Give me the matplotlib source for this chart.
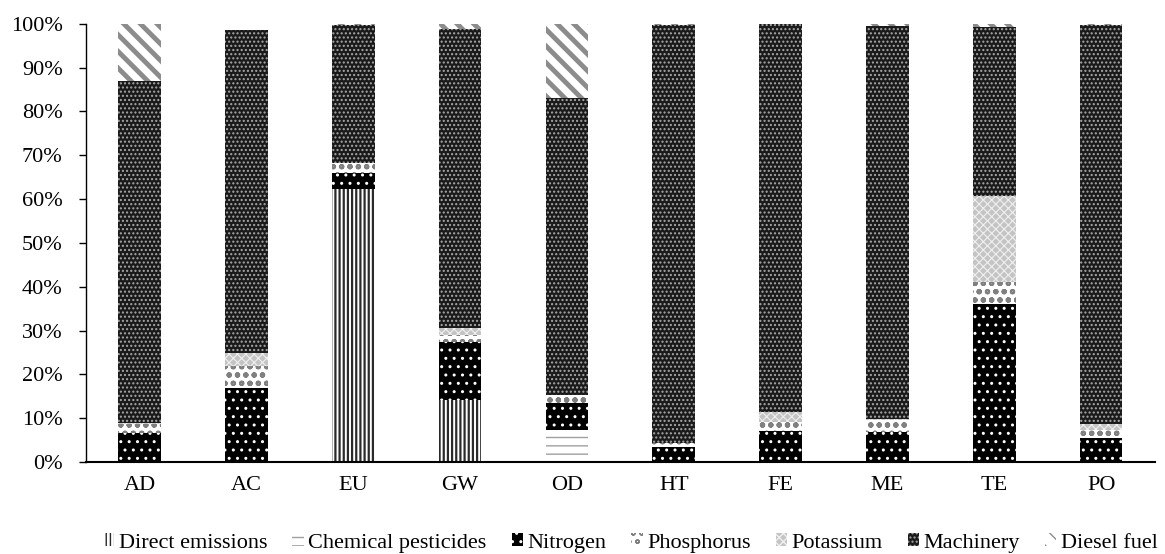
import matplotlib
matplotlib.use('Agg')
import matplotlib.pyplot as plt
from matplotlib.ticker import PercentFormatter, MultipleLocator
import numpy as np

plt.rcParams['font.family'] = ['Liberation Serif', 'DejaVu Serif']
plt.rcParams['hatch.linewidth'] = 1.0

# shares of each source (%)
sites = ['AD', 'AC', 'EU', 'GW', 'OD', 'HT', 'FE', 'ME', 'TE', 'PO']
direct     = [0.0, 0.0, 62.3, 14.2, 0.0, 0.0, 0.0, 0.0, 0.0, 0.0]
pesticides = [0.0, 0.3, 0.0, 0.0, 7.3, 0.0, 0.0, 0.0, 0.0, 0.0]
nitrogen   = [6.6, 16.6, 3.7, 13.2, 6.1, 3.5, 7.1, 6.9, 36.1, 5.4]
phosphorus = [2.0, 5.1, 2.3, 1.6, 1.9, 0.9, 2.1, 2.7, 5.0, 2.0]
potassium  = [0.3, 2.9, 0.0, 1.5, 0.0, 0.0, 2.3, 0.3, 19.6, 1.2]
machinery  = [78.1, 73.7, 31.5, 68.4, 67.7, 95.4, 88.5, 89.6, 38.6, 91.1]
diesel     = [13.0, 0.0, 0.2, 1.1, 17.0, 0.2, 0.0, 0.5, 0.7, 0.3]

# name, values, face, hatch colour, hatch, hatch width
series = [
    ('Direct emissions', direct, 'white', '#2a2a2a', '||||', 1.6),
    ('Chemical pesticides', pesticides, 'white', '#a0a0a0', '--', 1.0),
    ('Nitrogen', nitrogen, 'black', 'white', '..', 1.0),
    ('Phosphorus', phosphorus, 'white', '#808080', 'oo', 1.5),
    ('Potassium', potassium, '#c4c4c4', '#f0f0f0', 'xxxx', 0.8),
    ('Machinery', machinery, '#1a1a1a', '#a8a8a8', '....', 1.0),
    ('Diesel fuel', diesel, 'white', '#8c8c8c', '\\\\', 3.5),
]

fig = plt.figure(figsize=[11.65, 5.54], dpi=100)
ax = fig.add_axes([0.074, 0.166, 0.917, 0.791])

x = np.arange(len(sites))
bottom = np.zeros(len(sites))
for name, vals, fc, hc, hatch, hw in series:
    vals = np.array(vals)
    bars = ax.bar(x, vals, 0.4, bottom=bottom, color=fc, edgecolor=hc,
                  hatch=hatch, linewidth=0, label=name)
    for b in bars:
        if hasattr(b, 'set_hatch_linewidth'):
            b.set_hatch_linewidth(hw)
    bottom += vals

ax.set_xlim(-0.5, 9.5)
ax.set_ylim(0, 100)
ax.yaxis.set_major_locator(MultipleLocator(10))
ax.yaxis.set_major_formatter(PercentFormatter(100, decimals=0))
ax.set_xticks(x)
ax.set_xticklabels(sites)
ax.tick_params(axis='x', length=0, pad=10, labelsize=16)
ax.tick_params(axis='y', length=5, width=1, labelsize=16, pad=12)

ax.spines['top'].set_visible(False)
ax.spines['right'].set_visible(False)
ax.spines['left'].set_linewidth(1)
ax.spines['bottom'].set_linewidth(1.5)

leg = fig.legend(loc='center', bbox_to_anchor=(0.541, 0.02), ncol=7,
                 frameon=False, fontsize=16, handlelength=0.5,
                 handleheight=0.5, handletextpad=0.2, columnspacing=1.14)

plt.savefig('out.png', dpi=100)
